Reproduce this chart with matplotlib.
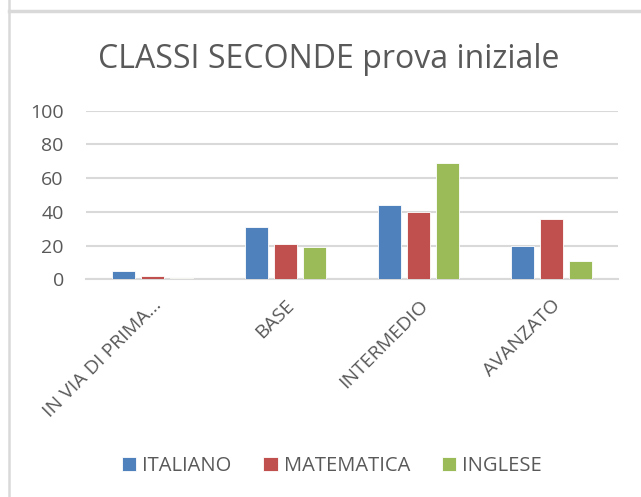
import numpy as np
import matplotlib.pyplot as plt
from matplotlib.lines import Line2D

categorie = ["IN VIA DI PRIMA…", "BASE", "INTERMEDIO", "AVANZATO"]
italiano = [5, 31, 44, 20]
matematica = [2, 21, 40, 36]
inglese = [1, 19, 69, 11]
materie = ["ITALIANO", "MATEMATICA", "INGLESE"]
colori = ["#4F81BD", "#C0504D", "#9BBB59"]

plt.rcParams['font.family'] = ['Open Sans', 'DejaVu Sans']
grigio = "#595959"

fig = plt.figure(figsize=(6.41, 4.97), dpi=100)
ax = fig.add_axes([86/641, 1 - 279.3/497, (618-86)/641, (279.3-110.7)/497])

x = np.arange(len(categorie))
for i, (vals, col, nome) in enumerate(zip([italiano, matematica, inglese], colori, materie)):
    ax.bar(x + (i - 1) * 0.22, vals, 0.17, color=col, label=nome,
           edgecolor='white', linewidth=0.6, zorder=3)

ax.set_xlim(-0.5, 3.5)
ax.set_ylim(0, 100)
ax.set_yticks(range(0, 101, 20))
ax.grid(axis='y', color='#d9d9d9', linewidth=1.5, zorder=0)
for s in ['top', 'right', 'left']:
    ax.spines[s].set_visible(False)
ax.spines['bottom'].set_color('#d9d9d9')
ax.spines['bottom'].set_linewidth(1.5)
ax.tick_params(axis='both', length=0, labelsize=14, labelcolor=grigio)
ax.tick_params(axis='y', pad=16)
ax.set_xticks(x)
ax.set_xticklabels(categorie, rotation=45, ha='right', rotation_mode='anchor')
ax.tick_params(axis='x', pad=12)

fig.text(0.512, 1 - 60/497, "CLASSI SECONDE prova iniziale", ha='center', va='center',
         fontsize=23, color=grigio)

leg = fig.legend(loc='center', bbox_to_anchor=(332/641, 1 - 466/497), ncol=3,
                 frameon=False, fontsize=14.5, handlelength=0.7, handleheight=0.7,
                 handletextpad=0.3, columnspacing=1.6)
for t in leg.get_texts():
    t.set_color(grigio)

# cornice
fig.add_artist(Line2D([9/641, 9/641], [0, 1], color='#d9d9d9', linewidth=1.8))
fig.add_artist(Line2D([9/641, 1], [1 - 10.5/497, 1 - 10.5/497], color='#d9d9d9', linewidth=2.5))

fig.savefig("out.png", dpi=100)
